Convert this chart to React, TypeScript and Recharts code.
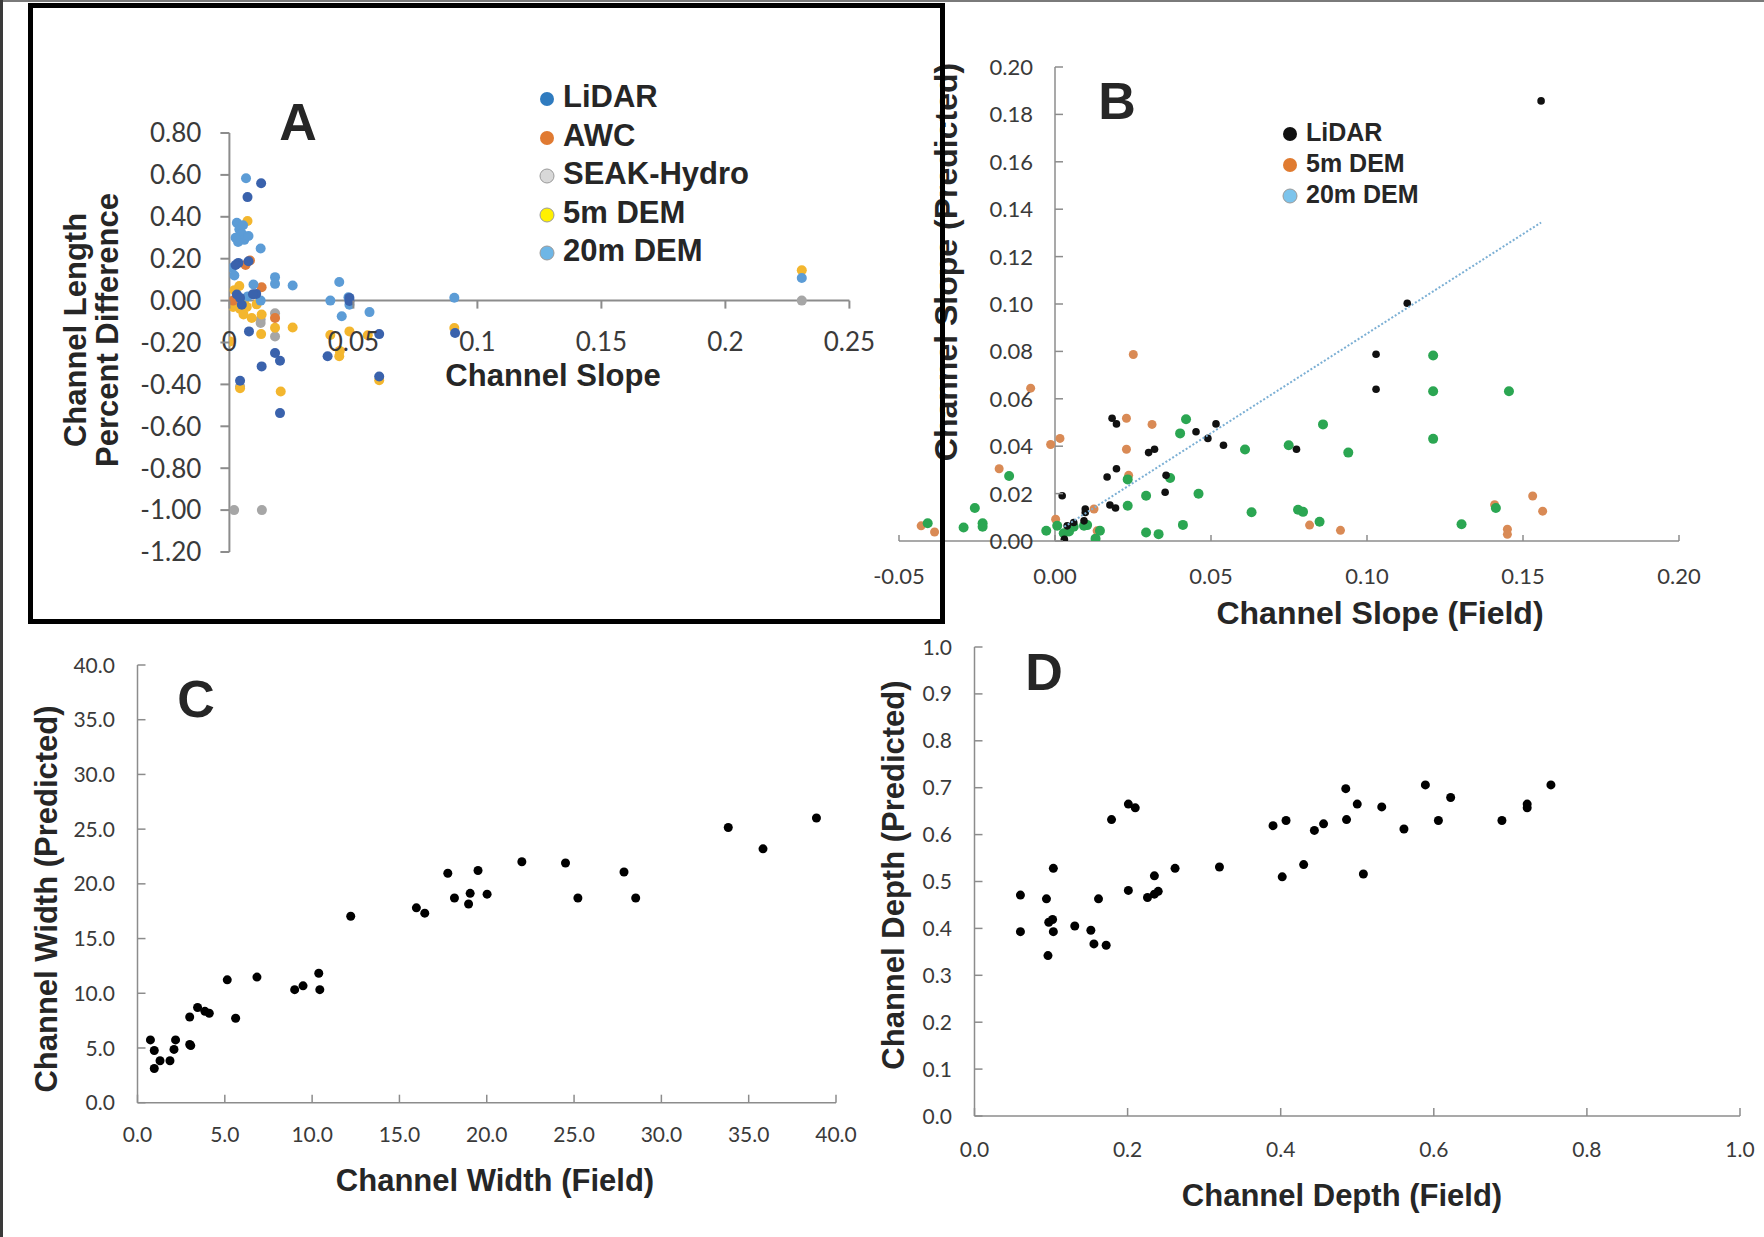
import React from 'react';
import { ScatterChart, Scatter, XAxis, YAxis, ReferenceLine, Legend } from 'recharts';

type Pt = { x: number; y: number };
const pts = (arr: number[][]): Pt[] => arr.map(([x, y]) => ({ x, y }));

// ---------------- Panel A: channel length percent difference vs channel slope
const aXTicks = [0, 0.05, 0.1, 0.15, 0.2, 0.25];
const aYTicks = [0.8, 0.6, 0.4, 0.2, 0, -0.2, -0.4, -0.6, -0.8, -1.0, -1.2];
const aLidar = [
  [0.0128, 0.56], [0.0073, 0.494], [0.0036, 0.18], [0.0077, 0.188], [0.003, 0.029], [0.0043, 0.013],
  [0.0108, 0.032], [0.005, -0.02], [0.0079, -0.147], [0.013, -0.314], [0.0043, -0.383], [0.0184, -0.25],
  [0.0204, -0.287], [0.0204, -0.537], [0.0396, -0.266], [0.0484, 0.013], [0.0484, -0.002], [0.0604, -0.16],
  [0.0604, -0.362], [0.091, -0.155], [0.0025, 0.17], [0.0095, 0.03],
];
const aAwc = [[0.0083, 0.191], [0.013, 0.064], [0.0184, -0.083], [0.0065, 0.17], [0.0015, 0.0]];
const aSeak = [
  [0.0043, -0.41], [0.0126, -0.107], [0.0184, -0.171], [0.0019, -1.0], [0.0131, -1.0], [0.2308, 0.0],
  [0.0184, -0.06], [0.0126, -0.09],
];
const aDem5 = [
  [0.0073, 0.38], [0.0003, -0.195], [0.0015, -0.03], [0.0043, -0.04], [0.0057, -0.066], [0.007, -0.03],
  [0.009, -0.083], [0.011, -0.018], [0.013, -0.066], [0.0128, -0.16], [0.0184, -0.13], [0.0255, -0.128],
  [0.0407, -0.164], [0.0443, -0.266], [0.0484, -0.147], [0.0558, -0.165], [0.0604, -0.38], [0.0207, -0.434],
  [0.0043, -0.418], [0.0907, -0.131], [0.2308, 0.145], [0.002, 0.05], [0.006, 0.0], [0.004, 0.07], [0.0445, -0.24],
];
const aDem20 = [
  [0.0067, 0.584], [0.003, 0.372], [0.004, 0.34], [0.005, 0.32], [0.006, 0.29], [0.0035, 0.28], [0.0025, 0.3],
  [0.0077, 0.308], [0.0126, 0.249], [0.001, 0.156], [0.002, 0.12], [0.0184, 0.112], [0.0184, 0.08],
  [0.0255, 0.072], [0.0097, 0.077], [0.0407, 0.0], [0.0443, 0.089], [0.0453, -0.075], [0.048, 0.016],
  [0.0484, -0.02], [0.0565, -0.055], [0.0907, 0.014], [0.2308, 0.108], [0.0126, 0.0], [0.0074, 0.02], [0.0055, 0.36],
];
const aLegend = [
  { label: 'LiDAR', fill: '#2F7BBF', stroke: 'none' },
  { label: 'AWC', fill: '#E07A32', stroke: 'none' },
  { label: 'SEAK-Hydro', fill: '#D8D8D8', stroke: '#9a9a9a' },
  { label: '5m DEM', fill: '#FFF000', stroke: '#9a9a9a' },
  { label: '20m DEM', fill: '#6EB6E6', stroke: '#9a9a9a' },
];

// ---------------- Panel B: channel slope predicted vs field
const bXTicks = [-0.05, 0, 0.05, 0.1, 0.15, 0.2];
const bYTicks = [0, 0.02, 0.04, 0.06, 0.08, 0.1, 0.12, 0.14, 0.16, 0.18, 0.2];
const bLidar = [
  [0.0023, 0.0191], [0.003, 0.0007], [0.0039, 0.0064], [0.006, 0.0078], [0.0097, 0.0135], [0.0097, 0.012],
  [0.0093, 0.0085], [0.0167, 0.027], [0.0183, 0.0518], [0.0197, 0.0494], [0.0197, 0.0305], [0.0176, 0.0152],
  [0.0194, 0.0139], [0.03, 0.0373], [0.0319, 0.0387], [0.0356, 0.0277], [0.0353, 0.0206], [0.0452, 0.0461],
  [0.049, 0.0433], [0.0516, 0.0494], [0.054, 0.0404], [0.0774, 0.0387], [0.1029, 0.0788], [0.1029, 0.064],
  [0.1129, 0.1003], [0.1558, 0.1857],
];
const bDem5 = [
  [-0.0429, 0.0064], [-0.0386, 0.0038], [-0.0179, 0.0305], [-0.0078, 0.0645], [-0.0014, 0.0407], [0.0016, 0.0433],
  [0.0002, 0.0092], [0.0125, 0.0135], [0.0135, 0.0043], [0.0229, 0.0518], [0.0229, 0.0387], [0.0236, 0.0277],
  [0.0251, 0.0787], [0.0311, 0.0492], [0.0816, 0.0067], [0.0915, 0.0045], [0.1409, 0.0153], [0.145, 0.005],
  [0.145, 0.0028], [0.1531, 0.019], [0.1563, 0.0126],
];
const bDem20 = [
  [-0.0408, 0.0075], [-0.0293, 0.0057], [-0.0257, 0.0139], [-0.0232, 0.0075], [-0.0232, 0.006], [-0.0147, 0.0274],
  [-0.0028, 0.0043], [0.0007, 0.0064], [0.0028, 0.0033], [0.0045, 0.004], [0.006, 0.006], [0.0093, 0.0064],
  [0.0103, 0.0067], [0.013, 0.001], [0.0144, 0.0043], [0.0233, 0.0149], [0.0233, 0.026], [0.0292, 0.0191],
  [0.0292, 0.0036], [0.0332, 0.0029], [0.0369, 0.0266], [0.0401, 0.0454], [0.042, 0.0514], [0.041, 0.0068],
  [0.046, 0.0199], [0.0609, 0.0386], [0.063, 0.0121], [0.0749, 0.0404], [0.0779, 0.0132], [0.0795, 0.0123],
  [0.0848, 0.0081], [0.0859, 0.0492], [0.094, 0.0373], [0.1212, 0.0783], [0.1212, 0.0632], [0.1212, 0.0431],
  [0.1303, 0.0071], [0.1413, 0.0139], [0.1455, 0.0632],
];
const bTrend = [[0.003, 0.006], [0.1558, 0.1344]];
const bLegend = [
  { label: 'LiDAR', fill: '#111111', stroke: 'none' },
  { label: '5m DEM', fill: '#E07B30', stroke: 'none' },
  { label: '20m DEM', fill: '#7CC4EC', stroke: '#9a9a9a' },
];

// ---------------- Panel C: channel width
const cTicks = [0, 5, 10, 15, 20, 25, 30, 35, 40];
const cWidth = [
  [0.74, 5.74], [0.96, 4.77], [0.96, 3.13], [1.29, 3.83], [1.86, 3.83], [2.09, 4.87], [2.18, 5.74], [2.99, 7.83],
  [2.99, 5.32], [3.05, 5.22], [3.44, 8.7], [3.86, 8.35], [4.11, 8.17], [5.14, 11.23], [5.62, 7.72], [6.84, 11.48],
  [9.0, 10.33], [9.48, 10.68], [10.38, 11.83], [10.44, 10.33], [12.21, 17.04], [15.97, 17.81], [16.45, 17.32],
  [17.77, 20.97], [18.15, 18.71], [18.96, 18.16], [19.05, 19.13], [19.5, 21.22], [20.02, 19.06], [22.01, 22.02],
  [24.51, 21.91], [25.22, 18.71], [27.86, 21.08], [28.53, 18.71], [33.83, 25.15], [35.82, 23.2], [38.88, 26.02],
];

// ---------------- Panel D: channel depth
const dXTicks = [0, 0.2, 0.4, 0.6, 0.8, 1.0];
const dYTicks = [0, 0.1, 0.2, 0.3, 0.4, 0.5, 0.6, 0.7, 0.8, 0.9, 1.0];
const dDepth = [
  [0.06, 0.471], [0.06, 0.393], [0.094, 0.463], [0.097, 0.413], [0.102, 0.419], [0.103, 0.528], [0.103, 0.393],
  [0.096, 0.342], [0.131, 0.405], [0.152, 0.396], [0.156, 0.367], [0.162, 0.463], [0.172, 0.364], [0.179, 0.632],
  [0.201, 0.481], [0.201, 0.665], [0.21, 0.657], [0.226, 0.466], [0.235, 0.512], [0.235, 0.473], [0.24, 0.479],
  [0.262, 0.528], [0.32, 0.531], [0.39, 0.619], [0.402, 0.51], [0.407, 0.63], [0.43, 0.536], [0.444, 0.609],
  [0.456, 0.623], [0.485, 0.698], [0.486, 0.632], [0.5, 0.665], [0.508, 0.516], [0.532, 0.659], [0.561, 0.612],
  [0.589, 0.706], [0.606, 0.63], [0.622, 0.679], [0.689, 0.63], [0.722, 0.665], [0.722, 0.657], [0.753, 0.706],
];

// ---------------- styling helpers
const AX = '#8c8c8c';
const TICK_FONT = 'Lato, "Open Sans", sans-serif';
const TITLE_FONT = '"Liberation Sans", Arial, sans-serif';
const TEXT = '#262626';

type Box = { left: number; top: number; w: number; h: number };
type Plot = { left: number; right: number; top: number; bottom: number };
const XH = 30;
function frame(box: Box, plot: Plot) {
  return {
    margin: { top: plot.top - box.top, right: box.left + box.w - plot.right, bottom: box.top + box.h - plot.bottom - XH, left: 0 },
    yWidth: plot.left - box.left,
  };
}

type TickCfg = { axis: 'x' | 'y'; shift: number; m0: number; m1: number; off: number; fmt: (v: number) => string; size: number; sw: number };
function makeTick(c: TickCfg) {
  return (p: any) => {
    const v = p.payload.value as number;
    if (c.axis === 'y') {
      const ax = p.x + c.shift;
      return (
        <g>
          <line x1={ax + c.m0} x2={ax + c.m1} y1={p.y} y2={p.y} stroke={AX} strokeWidth={c.sw} />
          <text x={ax - c.off} y={p.y} dy="0.36em" textAnchor="end" fontFamily={TICK_FONT} fontSize={c.size} fill="#3a3a3a">
            {c.fmt(v)}
          </text>
        </g>
      );
    }
    const ay = p.y + c.shift;
    return (
      <g>
        <line x1={p.x} x2={p.x} y1={ay + c.m0} y2={ay + c.m1} stroke={AX} strokeWidth={c.sw} />
        <text x={p.x} y={ay + c.off} dy="0.36em" textAnchor="middle" fontFamily={TICK_FONT} fontSize={c.size} fill="#3a3a3a">
          {c.fmt(v)}
        </text>
      </g>
    );
  };
}

const dot = (fill: string, r: number) => (p: any) => <circle cx={p.cx} cy={p.cy} r={r} fill={fill} />;
const noDot = () => <g />;

function LegendBox({ items, fontSize, rowH, r }: { items: { label: string; fill: string; stroke: string }[]; fontSize: number; rowH: number; r: number }) {
  return (
    <div>
      {items.map((it) => (
        <div key={it.label} style={{ display: 'flex', alignItems: 'center', height: rowH, whiteSpace: 'nowrap' }}>
          <svg width={2 * r + 2} height={2 * r + 2} style={{ marginRight: 8, marginTop: 4 }}>
            <circle cx={r + 1} cy={r + 1} r={r} fill={it.fill} stroke={it.stroke} strokeWidth={1} />
          </svg>
          <span style={{ fontFamily: TITLE_FONT, fontWeight: 700, fontSize, color: TEXT }}>{it.label}</span>
        </div>
      ))}
    </div>
  );
}

function Txt({ x, y, size, text, rotate, lines }: { x: number; y: number; size: number; text?: string; rotate?: boolean; lines?: string[] }) {
  return (
    <div
      style={{
        position: 'absolute', left: x, top: y, transform: `translate(-50%, -50%)${rotate ? ' rotate(-90deg)' : ''}`,
        fontFamily: TITLE_FONT, fontWeight: 700, fontSize: size, color: TEXT, whiteSpace: 'nowrap', textAlign: 'center',
        lineHeight: `${Math.round(size * 1.02)}px`,
      }}
    >
      {lines ? lines.map((l) => <div key={l}>{l}</div>) : text}
    </div>
  );
}

// layout
const A_BOX: Box = { left: 130, top: 60, w: 760, h: 540 };
const A_PLOT: Plot = { left: 229.4, right: 849.4, top: 133, bottom: 552 };
const B_BOX: Box = { left: 870, top: 40, w: 840, h: 580 };
const B_PLOT: Plot = { left: 899, right: 1679, top: 67, bottom: 541 };
const C_BOX: Box = { left: 60, top: 640, w: 800, h: 540 };
const C_PLOT: Plot = { left: 137.5, right: 836, top: 665, bottom: 1102.7 };
const D_BOX: Box = { left: 900, top: 620, w: 860, h: 580 };
const D_PLOT: Plot = { left: 974.5, right: 1740, top: 647, bottom: 1116 };

const aZeroY = A_PLOT.top + (0.8 / 2.0) * (A_PLOT.bottom - A_PLOT.top);
const aXTick = makeTick({ axis: 'x', shift: aZeroY - A_PLOT.bottom, m0: 0, m1: 8, off: 41, fmt: (v) => String(v), size: 26, sw: 2 });
const aYTick = makeTick({ axis: 'y', shift: 0, m0: -9, m1: 0, off: 28, fmt: (v) => v.toFixed(2), size: 26, sw: 2 });
const bXTick = makeTick({ axis: 'x', shift: 0, m0: 0, m1: -6, off: 35, fmt: (v) => v.toFixed(2), size: 22, sw: 1.5 });
const bYTick = makeTick({ axis: 'y', shift: (0.05 / 0.25) * (B_PLOT.right - B_PLOT.left), m0: 0, m1: 8, off: 22, fmt: (v) => v.toFixed(2), size: 22, sw: 1.5 });
const cXTick = makeTick({ axis: 'x', shift: 0, m0: 0, m1: -8, off: 32, fmt: (v) => v.toFixed(1), size: 21, sw: 1.5 });
const cYTick = makeTick({ axis: 'y', shift: 0, m0: 0, m1: 8, off: 22.6, fmt: (v) => v.toFixed(1), size: 21, sw: 1.5 });
const dXTick = makeTick({ axis: 'x', shift: 0, m0: 0, m1: -8, off: 33, fmt: (v) => v.toFixed(1), size: 21, sw: 1.5 });
const dYTick = makeTick({ axis: 'y', shift: 0, m0: 0, m1: 8, off: 22.6, fmt: (v) => v.toFixed(1), size: 21, sw: 1.5 });

export default function App() {
  const fa = frame(A_BOX, A_PLOT);
  const fb = frame(B_BOX, B_PLOT);
  const fc = frame(C_BOX, C_PLOT);
  const fd = frame(D_BOX, D_PLOT);
  return (
    <div style={{ position: 'absolute', left: 0, top: 0, width: 1764, height: 1237, background: '#fff', overflow: 'hidden' }}>
      <div style={{ position: 'absolute', left: 0, top: 0, width: 1764, height: 2, background: '#7a7a7a' }} />
      <div style={{ position: 'absolute', left: 0, top: 0, width: 3, height: 1237, background: '#3a3a3a' }} />

      {/* Panel B */}
      <div style={{ position: 'absolute', left: B_BOX.left, top: B_BOX.top }}>
        <ScatterChart width={B_BOX.w} height={B_BOX.h} margin={fb.margin}>
          <XAxis type="number" dataKey="x" domain={[-0.05, 0.2]} ticks={bXTicks} interval={0} tickSize={0} tickMargin={0}
            tick={bXTick} tickLine={false} axisLine={{ stroke: AX, strokeWidth: 1.5 }} height={XH} allowDataOverflow />
          <YAxis type="number" dataKey="y" domain={[0, 0.2]} ticks={bYTicks} interval={0} tickSize={0} tickMargin={0}
            tick={bYTick} tickLine={false} axisLine={false} width={fb.yWidth} allowDataOverflow />
          <ReferenceLine x={0} stroke={AX} strokeWidth={1.5} />
          <Scatter name="5m DEM" data={pts(bDem5)} shape={dot('#D98A55', 4.5)} isAnimationActive={false} />
          <Scatter name="20m DEM" data={pts(bDem20)} shape={dot('#2BA652', 5)} isAnimationActive={false} />
          <Scatter name="LiDAR" data={pts(bLidar)} shape={dot('#111111', 3.8)} isAnimationActive={false} />
          <Scatter name="Trend" data={pts(bTrend)} shape={noDot} line={{ stroke: '#7BAFD4', strokeWidth: 2, strokeDasharray: '2 2' }}
            isAnimationActive={false} legendType="none" />
          <Legend layout="vertical" align="center" verticalAlign="middle"
            wrapperStyle={{ left: 1282 - B_BOX.left, top: 132 - 15.5 - B_BOX.top, width: 'auto' }}
            content={() => <LegendBox items={bLegend} fontSize={25} rowH={31} r={7} />} />
        </ScatterChart>
      </div>
      <Txt x={1117} y={101} size={52} text="B" />
      <Txt x={946} y={262} size={32} text="Channel Slope (Predicted)" rotate />
      <Txt x={1380} y={613} size={32} text="Channel Slope (Field)" />

      {/* Panel A */}
      <div style={{ position: 'absolute', left: A_BOX.left, top: A_BOX.top }}>
        <ScatterChart width={A_BOX.w} height={A_BOX.h} margin={fa.margin}>
          <XAxis type="number" dataKey="x" domain={[0, 0.25]} ticks={aXTicks} interval={0} tickSize={0} tickMargin={0}
            tick={aXTick} tickLine={false} axisLine={false} height={XH} allowDataOverflow />
          <YAxis type="number" dataKey="y" domain={[-1.2, 0.8]} ticks={aYTicks} interval={0} tickSize={0} tickMargin={0}
            tick={aYTick} tickLine={false} axisLine={{ stroke: AX, strokeWidth: 2 }} width={fa.yWidth} allowDataOverflow />
          <ReferenceLine y={0} stroke={AX} strokeWidth={2} />
          <Scatter name="SEAK-Hydro" data={pts(aSeak)} shape={dot('#A6A6A6', 5)} isAnimationActive={false} />
          <Scatter name="5m DEM" data={pts(aDem5)} shape={dot('#F3B62E', 5)} isAnimationActive={false} />
          <Scatter name="AWC" data={pts(aAwc)} shape={dot('#DF7C3A', 5)} isAnimationActive={false} />
          <Scatter name="20m DEM" data={pts(aDem20)} shape={dot('#5C9CD6', 5)} isAnimationActive={false} />
          <Scatter name="LiDAR" data={pts(aLidar)} shape={dot('#3A62AC', 5)} isAnimationActive={false} />
          <Legend layout="vertical" align="center" verticalAlign="middle"
            wrapperStyle={{ left: 539 - A_BOX.left, top: 97 - 19.25 - A_BOX.top, width: 'auto' }}
            content={() => <LegendBox items={aLegend} fontSize={31} rowH={38.5} r={7} />} />
        </ScatterChart>
      </div>
      <Txt x={298} y={122} size={52} text="A" />
      <Txt x={92} y={330} size={31} rotate lines={['Channel Length', 'Percent Difference']} />
      <Txt x={553} y={376} size={31} text="Channel Slope" />
      <div style={{ position: 'absolute', left: 28, top: 3, width: 917, height: 621, border: '5px solid #000', boxSizing: 'border-box' }} />

      {/* Panel C */}
      <div style={{ position: 'absolute', left: C_BOX.left, top: C_BOX.top }}>
        <ScatterChart width={C_BOX.w} height={C_BOX.h} margin={fc.margin}>
          <XAxis type="number" dataKey="x" domain={[0, 40]} ticks={cTicks} interval={0} tickSize={0} tickMargin={0}
            tick={cXTick} tickLine={false} axisLine={{ stroke: AX, strokeWidth: 1.5 }} height={XH} allowDataOverflow />
          <YAxis type="number" dataKey="y" domain={[0, 40]} ticks={cTicks} interval={0} tickSize={0} tickMargin={0}
            tick={cYTick} tickLine={false} axisLine={{ stroke: AX, strokeWidth: 1.5 }} width={fc.yWidth} allowDataOverflow />
          <Scatter name="Channel Width" data={pts(cWidth)} shape={dot('#000000', 4.5)} isAnimationActive={false} />
        </ScatterChart>
      </div>
      <Txt x={196} y={699} size={52} text="C" />
      <Txt x={47} y={899} size={31} text="Channel Width (Predicted)" rotate />
      <Txt x={495} y={1181} size={31} text="Channel Width (Field)" />

      {/* Panel D */}
      <div style={{ position: 'absolute', left: D_BOX.left, top: D_BOX.top }}>
        <ScatterChart width={D_BOX.w} height={D_BOX.h} margin={fd.margin}>
          <XAxis type="number" dataKey="x" domain={[0, 1]} ticks={dXTicks} interval={0} tickSize={0} tickMargin={0}
            tick={dXTick} tickLine={false} axisLine={{ stroke: AX, strokeWidth: 1.5 }} height={XH} allowDataOverflow />
          <YAxis type="number" dataKey="y" domain={[0, 1]} ticks={dYTicks} interval={0} tickSize={0} tickMargin={0}
            tick={dYTick} tickLine={false} axisLine={{ stroke: AX, strokeWidth: 1.5 }} width={fd.yWidth} allowDataOverflow />
          <Scatter name="Channel Depth" data={pts(dDepth)} shape={dot('#000000', 4.5)} isAnimationActive={false} />
        </ScatterChart>
      </div>
      <Txt x={1044} y={672} size={52} text="D" />
      <Txt x={894} y={875} size={31} text="Channel Depth (Predicted)" rotate />
      <Txt x={1342} y={1196} size={31} text="Channel Depth (Field)" />
    </div>
  );
}
